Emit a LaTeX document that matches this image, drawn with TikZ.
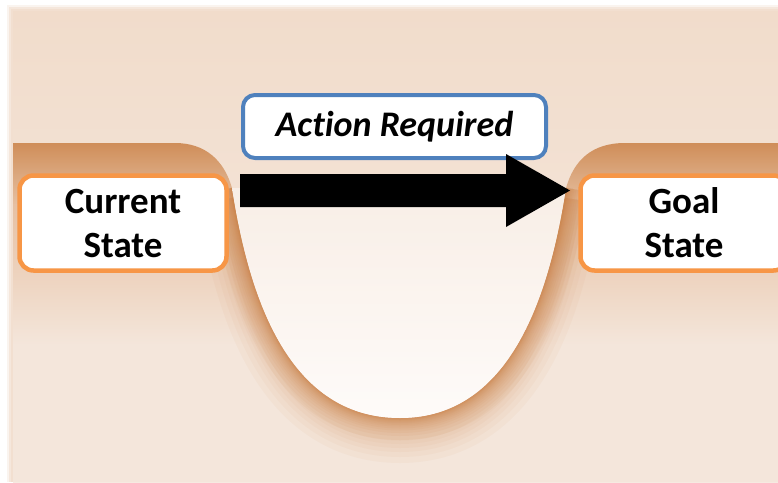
\documentclass[tikz,border=0pt]{standalone}
\usepackage{fontspec}
\setmainfont{Carlito}[Ligatures=NoCommon]
\usetikzlibrary{calc}
\definecolor{peachTop}{HTML}{F1DCCB}
\definecolor{peachBot}{HTML}{F6EAE1}
\definecolor{bandDark}{HTML}{CF8D58}
\definecolor{bandMid}{HTML}{E6C0A2}
\definecolor{groundLow}{HTML}{F4E6DB}
\definecolor{glowC}{HTML}{C87636}
\definecolor{pitTop}{HTML}{F8EEE6}
\definecolor{pitBot}{HTML}{FEFBF9}
\definecolor{orangeB}{HTML}{F79646}
\definecolor{blueB}{HTML}{4F81BD}
\tikzset{
  statebox/.style={rounded corners=14pt, draw=orangeB, line width=4.5pt, fill=white,
    minimum width=207pt, minimum height=95pt, inner sep=0pt, align=center,
    font=\fontsize{37}{44}\selectfont\bfseries},
  actbox/.style={rounded corners=12pt, draw=blueB, line width=4pt, fill=white,
    minimum width=303pt, minimum height=63pt, inner sep=0pt,
    font=\fontsize{36}{42}\selectfont\bfseries\itshape},
  blockarrow/.style={fill=black},
  upath/.style={insert path={-- (232,188) .. controls (248,290) and (285,418) .. (400,418)
     .. controls (513,418) and (550,290) .. (566,188)}},
}
\begin{document}
\begin{tikzpicture}[x=1pt,y=-1pt]
\useasboundingbox (0,0) rectangle (778,482);
\clip (0,0) rectangle (778,482);
\fill[white] (0,0) rectangle (778,482);
% background with soft edge
\fill[peachTop,opacity=0.3] (7,5) rectangle (778,482);
\fill[peachTop,opacity=0.5] (9,7) rectangle (778,482);
\fill[peachTop,opacity=0.7] (11,9) rectangle (778,482);
\shade[top color=peachTop, bottom color=peachBot] (13,11) rectangle (778,482);
% ground (plateaus and walls)
\begin{scope}
\clip (13,143) -- (175,143) .. controls (205,143) and (224,160) .. (232,188)
  [upath]
  .. controls (574,160) and (592,143) .. (625,143) -- (778,143) -- (778,482) -- (13,482) -- cycle;
\fill[groundLow] (0,140) rectangle (778,482);
\shade[top color=bandDark, bottom color=bandMid] (0,142) rectangle (778,205);
\shade[top color=bandMid, bottom color=groundLow] (0,204.5) rectangle (778,345);
% broad soft shadow under the pit
\begin{scope}[yshift=-10pt]
\foreach \w in {70,58,48,40,32,25}
  \draw[glowC, line width=\w pt, opacity=0.045] (232,188) [upath];
\end{scope}
% glow around the pit
\foreach \w in {44,36,30,25,21,17,14,11,9,7,5,4,3,2}
  \draw[glowC, line width=\w pt, opacity=0.065] (232,188) [upath];
\end{scope}
% the pit
\shade[top color=pitTop, bottom color=pitBot] (232,188) [upath] -- cycle;
% boxes
\node[statebox] (cur) at (123,223) {Current\\State};
\node[statebox] (goal) at (684,223) {Goal\\State};
\node[actbox] (act) at (394.5,126.5) {Action Required};
% block arrow
\coordinate (as) at (240,190.5);
\coordinate (ae) at (570,190.5);
\fill[blockarrow] ($(as)+(0,-16.5)$) -- ($(ae)+(-64,-16.5)$) -- ($(ae)+(-64,-36.5)$) -- (ae)
  -- ($(ae)+(-64,36.5)$) -- ($(ae)+(-64,16.5)$) -- ($(as)+(0,16.5)$) -- cycle;
\end{tikzpicture}
\end{document}
